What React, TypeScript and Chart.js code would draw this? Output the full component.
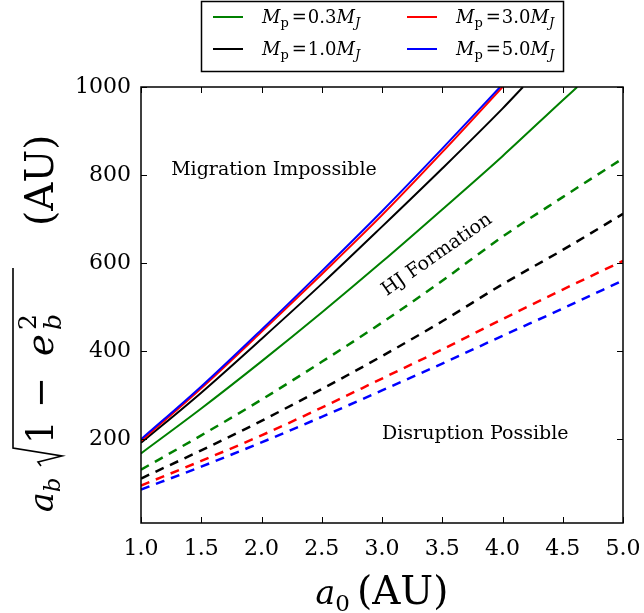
import React, { useEffect, useRef } from "react";
import { Chart, registerables } from "chart.js";
Chart.register(...registerables);

// ---- data ----
const xTickValues = [1.0, 1.5, 2.0, 2.5, 3.0, 3.5, 4.0, 4.5, 5.0];
const yTickValues = [200, 400, 600, 800, 1000];

const masses = [0.3, 1.0, 3.0, 5.0];
const seriesColors = ["#008000", "#000000", "#ff0000", "#0000ff"];

// solid curves (upper boundary), last point = where the curve leaves the top of the plot
const solidX03 = [1.0, 1.5, 2.0, 2.5, 3.0, 3.5, 4.0, 4.5, 4.62];
const solidY03 = [168, 270, 377, 488, 603, 722, 843, 970, 1000];
const solidX10 = [1.0, 1.5, 2.0, 2.5, 3.0, 3.5, 4.0, 4.17];
const solidY10 = [192, 306, 428, 553, 683, 815, 951, 1000];
const solidX30 = [1.0, 1.5, 2.0, 2.5, 3.0, 3.5, 4.0];
const solidY30 = [196, 316, 444, 575, 709, 852, 1000];
const solidX50 = [1.0, 1.5, 2.0, 2.5, 3.0, 3.5, 3.98];
const solidY50 = [200, 320, 449, 582, 718, 860, 1000];

// dashed curves (lower boundary)
const dashedX = [1.0, 1.5, 2.0, 2.5, 3.0, 3.5, 4.0, 4.5, 5.0];
const dashedY03 = [131, 209, 290, 376, 465, 560, 660, 750, 838];
const dashedY10 = [111, 175, 242, 314, 389, 468, 552, 630, 712];
const dashedY30 = [95, 151, 209, 272, 338, 404, 473, 540, 605];
const dashedY50 = [86, 138, 193, 251, 311, 372, 435, 497, 561];

const regionLabels = ["Migration Impossible", "HJ Formation", "Disruption Possible"];
const regionX = [1.25, 3.04, 3.0];
const regionY = [800, 525, 200];
const regionAngle = [0, 35, 0];

const solidXs = [solidX03, solidX10, solidX30, solidX50];
const solidYs = [solidY03, solidY10, solidY30, solidY50];
const dashedYs = [dashedY03, dashedY10, dashedY30, dashedY50];

const SERIF = "'DejaVu Serif'";

type Run = { t: string; f: string; dy?: number; sp?: number; noAdvance?: boolean };
function drawRuns(ctx: CanvasRenderingContext2D, runs: Run[], x: number, y: number, draw = true) {
  let cx = x;
  for (const r of runs) {
    ctx.font = r.f;
    if (draw) ctx.fillText(r.t, cx, y + (r.dy || 0));
    if (!r.noAdvance) cx += ctx.measureText(r.t).width + (r.sp || 0);
  }
  return cx - x;
}

const decorPlugin = {
  id: "decor",
  afterDraw(chart: any) {
    const ctx: CanvasRenderingContext2D = chart.ctx;
    const { left, right, top, bottom } = chart.chartArea;
    const xs = chart.scales.x;
    const ys = chart.scales.y;
    ctx.save();
    ctx.fillStyle = "#000";
    ctx.strokeStyle = "#000";
    // inward ticks on all four sides
    ctx.lineWidth = 1;
    const tl = 6;
    ctx.beginPath();
    for (const v of xTickValues) {
      const px = Math.round(xs.getPixelForValue(v)) + 0.5;
      ctx.moveTo(px, bottom);
      ctx.lineTo(px, bottom - tl);
      ctx.moveTo(px, top);
      ctx.lineTo(px, top + tl);
    }
    for (const v of yTickValues) {
      const py = Math.round(ys.getPixelForValue(v)) + 0.5;
      ctx.moveTo(left, py);
      ctx.lineTo(left + tl, py);
      ctx.moveTo(right, py);
      ctx.lineTo(right - tl, py);
    }
    ctx.stroke();
    // frame
    ctx.lineWidth = 1.5;
    ctx.strokeRect(left, top, right - left, bottom - top);

    // region annotations
    ctx.font = `19px ${SERIF}`;
    ctx.textBaseline = "alphabetic";
    ctx.textAlign = "left";
    regionLabels.forEach((lab, i) => {
      const px = xs.getPixelForValue(regionX[i]);
      const py = ys.getPixelForValue(regionY[i]);
      ctx.save();
      ctx.translate(px, py);
      ctx.rotate((-regionAngle[i] * Math.PI) / 180);
      ctx.fillText(lab, 0, 0);
      ctx.restore();
    });

    // x axis title: a_0 (AU)
    const big = 33;
    const au = 39;
    const sub = 23;
    const xRuns: Run[] = [
      { t: "a", f: `italic ${big}px ${SERIF}` },
      { t: "0", f: `${sub}px ${SERIF}`, dy: 7, sp: 7 },
      { t: "(AU)", f: `${au}px ${SERIF}` },
    ];
    const wx = drawRuns(ctx, xRuns, 0, 0, false);
    drawRuns(ctx, xRuns, (left + right) / 2 - wx / 2, 604);

    // y axis title: a_b sqrt(1 - e_b^2) (AU), laid out bottom -> top
    ctx.save();
    ctx.translate(53, 512);
    ctx.rotate(-Math.PI / 2);
    drawRuns(ctx, [
      { t: "a", f: `italic ${big}px ${SERIF}` },
      { t: "b", f: `italic ${sub}px ${SERIF}`, dy: 7 },
    ], 0, 0);
    // radical sign
    ctx.lineWidth = 1.6;
    ctx.beginPath();
    ctx.moveTo(46, -12);
    ctx.lineTo(50, -15);
    ctx.lineTo(56, 9);
    ctx.lineTo(64, -40);
    ctx.lineTo(244, -40);
    ctx.stroke();
    const rf = 37;
    drawRuns(ctx, [{ t: "1", f: `${rf}px ${SERIF}` }], 68, 0);
    drawRuns(ctx, [{ t: "\u2212", f: `${rf}px ${SERIF}` }], 104, 0);
    drawRuns(ctx, [{ t: "e", f: `italic ${rf}px ${SERIF}` }], 156, 0);
    drawRuns(ctx, [
      { t: "2", f: `${sub + 2}px ${SERIF}`, dy: -17, noAdvance: true },
      { t: "b", f: `italic ${sub + 2}px ${SERIF}`, dy: 8 },
    ], 182, 0);
    drawRuns(ctx, [{ t: "(AU)", f: `${au}px ${SERIF}` }], 286, 0);
    ctx.restore();

    // legend
    const lx = 201.5, ly = 1.5, lw = 362, lh = 70;
    ctx.fillStyle = "#fff";
    ctx.fillRect(lx, ly, lw, lh);
    ctx.lineWidth = 1.5;
    ctx.strokeStyle = "#000";
    ctx.strokeRect(lx, ly, lw, lh);
    const colX = [213, 407];
    const rowY = [17, 49];
    masses.forEach((m, i) => {
      const col = Math.floor(i / 2);
      const row = i % 2;
      const x0 = colX[col];
      const y0 = rowY[row];
      ctx.strokeStyle = seriesColors[i];
      ctx.lineWidth = 2;
      ctx.beginPath();
      ctx.moveTo(x0, y0);
      ctx.lineTo(x0 + 30, y0);
      ctx.stroke();
      ctx.fillStyle = "#000";
      const lf = 18;
      const runs: Run[] = [
        { t: "M", f: `italic ${lf}px ${SERIF}` },
        { t: "p", f: `${Math.round(lf * 0.7)}px ${SERIF}`, dy: 4, sp: 3 },
        { t: "=", f: `${lf}px ${SERIF}`, sp: 1 },
        { t: m.toFixed(1), f: `${lf}px ${SERIF}` },
        { t: "M", f: `italic ${lf}px ${SERIF}` },
        { t: "J", f: `italic ${Math.round(lf * 0.7)}px ${SERIF}`, dy: 4 },
      ];
      drawRuns(ctx, runs, x0 + 49, y0 + 6);
    });
    ctx.restore();
  },
};

export default function App() {
  const ref = useRef<HTMLCanvasElement | null>(null);
  useEffect(() => {
    if (!ref.current) return;
    const datasets: any[] = [];
    masses.forEach((m, i) => {
      datasets.push({
        label: `Mp=${m}MJ`,
        data: solidXs[i].map((x, k) => ({ x, y: solidYs[i][k] })),
        borderColor: seriesColors[i],
        backgroundColor: seriesColors[i],
        borderWidth: 2,
        pointRadius: 0,
        cubicInterpolationMode: "monotone",
        fill: false,
        order: 3 - i,
      });
    });
    masses.forEach((m, i) => {
      datasets.push({
        label: `Mp=${m}MJ lower`,
        data: dashedX.map((x, k) => ({ x, y: dashedYs[i][k] })),
        borderColor: seriesColors[i],
        backgroundColor: seriesColors[i],
        borderWidth: 2.5,
        borderDash: [9, 7],
        pointRadius: 0,
        cubicInterpolationMode: "monotone",
        fill: false,
        order: 7 - i,
      });
    });
    const chart = new Chart(ref.current, {
      type: "line",
      data: { datasets },
      options: {
        responsive: false,
        maintainAspectRatio: false,
        devicePixelRatio: 1,
        animation: false,
        layout: { padding: { top: 87, right: 21, left: 0, bottom: 0 } },
        plugins: { legend: { display: false }, tooltip: { enabled: false } },
        scales: {
          x: {
            type: "linear",
            min: 1,
            max: 5,
            afterBuildTicks: (s: any) => {
              s.ticks = xTickValues.map((v) => ({ value: v }));
            },
            afterFit: (s: any) => {
              s.height = 90;
              s.paddingLeft = 0;
              s.paddingRight = 0;
            },
            grid: { display: false, drawTicks: false },
            border: { display: false },
            ticks: {
              autoSkip: false,
              maxRotation: 0,
              padding: 13,
              color: "#000",
              font: { family: "DejaVu Serif", size: 22 },
              callback: (v: any) => Number(v).toFixed(1),
            },
          },
          y: {
            type: "linear",
            min: 10,
            max: 1000,
            afterBuildTicks: (s: any) => {
              s.ticks = yTickValues.map((v) => ({ value: v }));
            },
            afterFit: (s: any) => {
              s.width = 141;
              s.paddingTop = 0;
              s.paddingBottom = 0;
            },
            grid: { display: false, drawTicks: false },
            border: { display: false },
            ticks: {
              autoSkip: false,
              padding: 10,
              color: "#000",
              font: { family: "DejaVu Serif", size: 22 },
              callback: (v: any) => String(v),
            },
          },
        },
      },
      plugins: [decorPlugin],
    });
    return () => chart.destroy();
  }, []);
  return (
    <div style={{ position: "absolute", left: 0, top: 0, width: 644, height: 613, background: "#fff" }}>
      <canvas ref={ref} width={644} height={613} style={{ display: "block", width: 644, height: 613 }} />
    </div>
  );
}
